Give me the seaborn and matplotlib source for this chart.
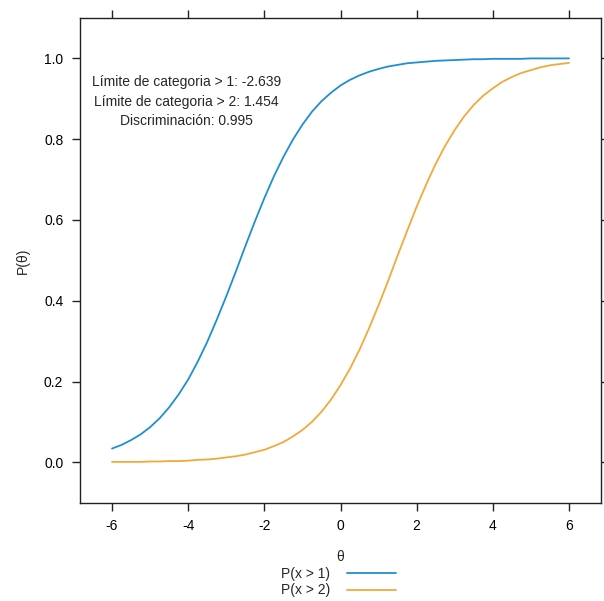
import matplotlib
matplotlib.use("Agg")
import matplotlib.pyplot as plt
import seaborn as sns
import pandas as pd

# theta grid and curve values
theta = [-6.0, -5.75, -5.5, -5.25, -5.0, -4.75, -4.5, -4.25, -4.0, -3.75, -3.5, -3.25,
         -3.0, -2.75, -2.5, -2.25, -2.0, -1.75, -1.5, -1.25, -1.0, -0.75, -0.5, -0.25,
         0.0, 0.25, 0.5, 0.75, 1.0, 1.25, 1.5, 1.75, 2.0, 2.25, 2.5, 2.75,
         3.0, 3.25, 3.5, 3.75, 4.0, 4.25, 4.5, 4.75, 5.0, 5.25, 5.5, 5.75, 6.0]
p_gt1 = [0.034, 0.043, 0.055, 0.069, 0.087, 0.109, 0.136, 0.168, 0.205, 0.249, 0.298, 0.353,
         0.411, 0.472, 0.535, 0.596, 0.654, 0.708, 0.756, 0.799, 0.836, 0.868, 0.894, 0.915,
         0.933, 0.947, 0.958, 0.967, 0.974, 0.980, 0.984, 0.988, 0.990, 0.992, 0.994, 0.995,
         0.996, 0.997, 0.998, 0.998, 0.999, 0.999, 0.999, 0.999, 1.000, 1.000, 1.000, 1.000, 1.000]
p_gt2 = [0.001, 0.001, 0.001, 0.001, 0.002, 0.002, 0.003, 0.003, 0.004, 0.006, 0.007, 0.009,
         0.012, 0.015, 0.019, 0.025, 0.031, 0.040, 0.050, 0.064, 0.080, 0.100, 0.125, 0.155,
         0.191, 0.232, 0.279, 0.332, 0.389, 0.449, 0.512, 0.573, 0.633, 0.688, 0.739, 0.784,
         0.823, 0.857, 0.885, 0.908, 0.926, 0.942, 0.954, 0.964, 0.971, 0.978, 0.983, 0.986, 0.989]
series_labels = ["P(x > 1)", "P(x > 2)"]
x_ticks = [-6, -4, -2, 0, 2, 4, 6]
y_ticks = [0.0, 0.2, 0.4, 0.6, 0.8, 1.0]
info_lines = ["Límite de categoria > 1: -2.639",
              "Límite de categoria > 2: 1.454",
              "Discriminación: 0.995"]

df = pd.DataFrame({
    "theta": theta * 2,
    "p": p_gt1 + p_gt2,
    "serie": [series_labels[0]] * len(theta) + [series_labels[1]] * len(theta),
})

sns.set_style("ticks")
plt.rcParams['font.family'] = ['Liberation Sans', 'DejaVu Sans']

fig = plt.figure(figsize=(6.04, 6.01), dpi=100)
ax = fig.add_axes([0.1325, 0.1636, 0.995 - 0.1325, 0.970 - 0.1636])

colors = ["#1F8FD0", "#F2A93B"]
sns.lineplot(data=df, x="theta", y="p", hue="serie", palette=colors,
             linewidth=1.3, ax=ax, legend=False)

ax.set_xlim(-6.84, 6.84)
ax.set_ylim(-0.1, 1.1)
ax.set_xticks(x_ticks)
ax.set_xticklabels([str(t) for t in x_ticks])
ax.set_yticks(y_ticks)
ax.set_yticklabels([f"{t:.1f}" for t in y_ticks])
ax.tick_params(axis="both", which="both", direction="out", length=6, width=1,
               colors="#222222", labelcolor="black", labelsize=10, pad=6,
               top=True, right=True, labeltop=False, labelright=False)
for s in ax.spines.values():
    s.set_visible(True)
    s.set_linewidth(1)
    s.set_color("#222222")

ax.set_xlabel("θ", fontsize=10, labelpad=12)
ax.set_ylabel("P(θ)", fontsize=10, labelpad=10)

ax.text(-4.05, 0.893, "\n".join(info_lines), ha="center", va="center",
        fontsize=10, linespacing=1.5)

handles = [plt.Line2D([], [], color=c, linewidth=1.3) for c in colors]
fig.legend(handles, series_labels, loc="center", bbox_to_anchor=(0.56, 0.031),
           frameon=False, markerfirst=False, fontsize=10, handlelength=3.5,
           labelspacing=0.15, handletextpad=1.2, borderpad=0)

fig.savefig("out.png", dpi=100)
